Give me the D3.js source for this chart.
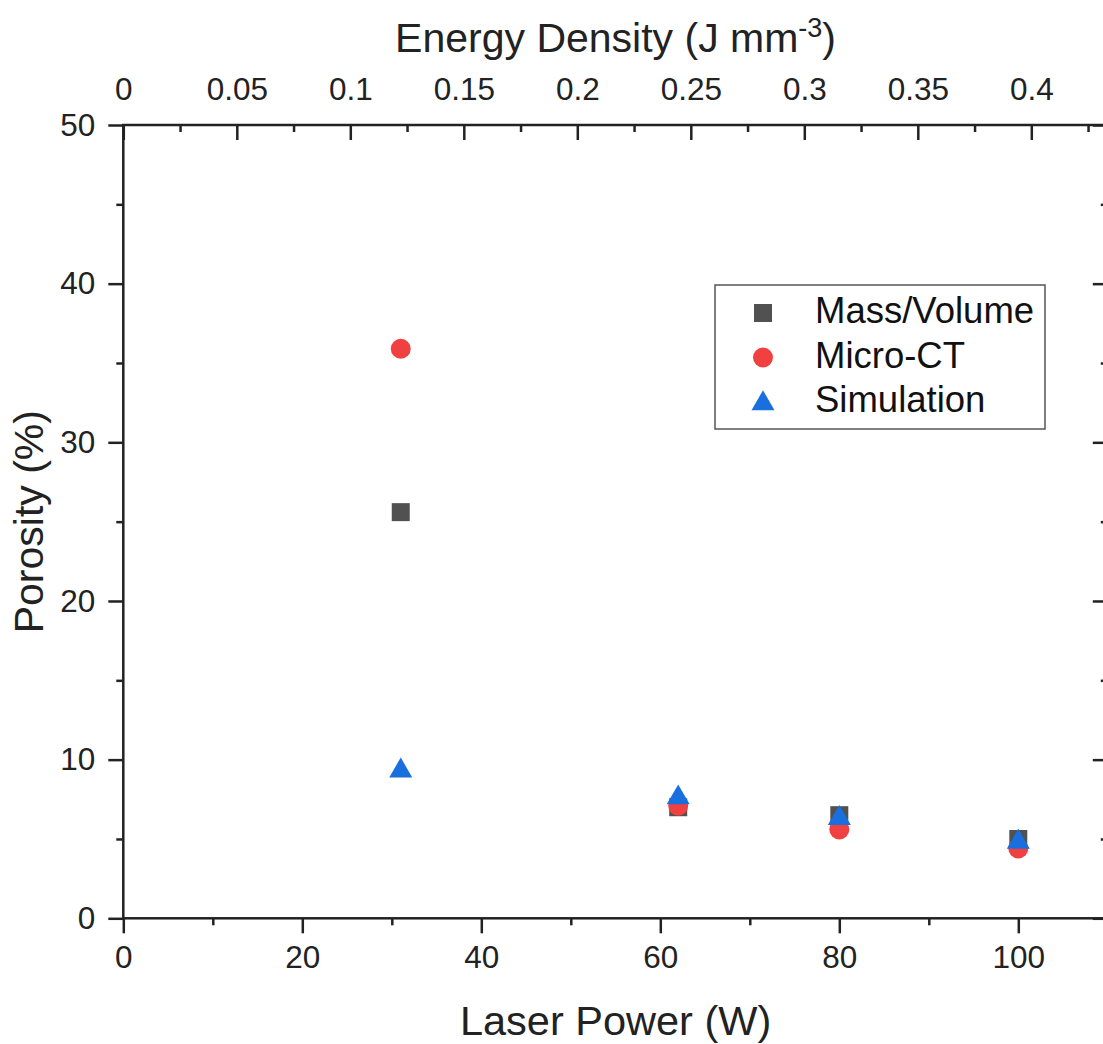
<!DOCTYPE html>
<html>
<head>
<meta charset="utf-8">
<script src="https://cdn.jsdelivr.net/npm/d3@7"></script>
<style>
  html, body { margin: 0; padding: 0; background: #fff; }
  svg { display: block; font-family: "Liberation Sans", Arial, sans-serif; }
</style>
</head>
<body>
<svg id="chart" width="1103" height="1044"></svg>
<script>
// Porosity measurements vs. laser power
const laserPower   = [31, 62, 80, 100];
const massVolume   = [25.6, 7.0, 6.5, 5.0];
const microCT      = [35.9, 7.1, 5.6, 4.4];
const simulation   = [9.3, 7.6, 6.3, 4.8];

const seriesNames  = ["Mass/Volume", "Micro-CT", "Simulation"];
const seriesColors = ["#515151", "#F14040", "#1A6FDF"];

const powerTicks    = [0, 20, 40, 60, 80, 100];
const porosityTicks = [0, 10, 20, 30, 40, 50];
const energyTicks   = [0, 0.05, 0.1, 0.15, 0.2, 0.25, 0.3, 0.35, 0.4];

const svg = d3.select("#chart");
const plotLeft = 123.3, plotRight = 1107.8, plotTop = 125, plotBottom = 918.3;

const x = d3.scaleLinear().domain([0, 110]).range([plotLeft, plotRight]);
const xTop = d3.scaleLinear().domain([0, 0.4337]).range([plotLeft, plotRight]);
const y = d3.scaleLinear().domain([0, 50]).range([plotBottom, plotTop]);

const axisColor = "#222";
const lw = 2.5;
const tickFont = "Liberation Sans, Arial, sans-serif";

function styleAxis(g) {
  g.select(".domain").remove();
  g.selectAll(".tick line").attr("stroke-width", lw).attr("stroke", axisColor);
  g.selectAll(".tick text").attr("font-size", 31.5).attr("fill", "#222").attr("font-family", tickFont);
}

// Bottom axis: outward ticks
svg.append("g").attr("transform", `translate(0,${plotBottom})`)
  .call(d3.axisBottom(x).tickValues(d3.range(10, 111, 20)).tickSize(7).tickFormat(""))
  .call(styleAxis);
svg.append("g").attr("transform", `translate(0,${plotBottom})`)
  .call(d3.axisBottom(x).tickValues(powerTicks).tickSize(15).tickPadding(12).tickFormat(d3.format("d")))
  .call(styleAxis);

// Left axis: outward ticks
svg.append("g").attr("transform", `translate(${plotLeft},0)`)
  .call(d3.axisLeft(y).tickValues(d3.range(5, 50, 10)).tickSize(7).tickFormat(""))
  .call(styleAxis);
svg.append("g").attr("transform", `translate(${plotLeft},0)`)
  .call(d3.axisLeft(y).tickValues(porosityTicks).tickSize(15).tickPadding(13).tickFormat(d3.format("d")))
  .call(styleAxis);

// Top axis: inward ticks, energy density labels
svg.append("g").attr("transform", `translate(0,${plotTop})`)
  .call(d3.axisTop(xTop).tickValues(d3.range(0.025, 0.44, 0.05)).tickSize(-7).tickFormat(""))
  .call(styleAxis);
svg.append("g").attr("transform", `translate(0,${plotTop})`)
  .call(d3.axisTop(xTop).tickValues(energyTicks).tickSize(-15).tickPadding(25)
    .tickFormat(d => d === 0 ? "0" : String(+d.toFixed(2))))
  .call(styleAxis);

// Right axis: inward ticks, no labels
svg.append("g").attr("transform", `translate(${plotRight},0)`)
  .call(d3.axisRight(y).tickValues(d3.range(5, 50, 10)).tickSize(-7).tickFormat(""))
  .call(styleAxis);
svg.append("g").attr("transform", `translate(${plotRight},0)`)
  .call(d3.axisRight(y).tickValues(porosityTicks).tickSize(-15).tickFormat(""))
  .call(styleAxis);

// Frame
svg.append("rect")
  .attr("x", plotLeft).attr("y", plotTop)
  .attr("width", plotRight - plotLeft).attr("height", plotBottom - plotTop)
  .attr("fill", "none").attr("stroke", axisColor).attr("stroke-width", lw);

// Axis titles
svg.append("text").attr("x", (plotLeft + plotRight) / 2).attr("y", 1035)
  .attr("text-anchor", "middle").attr("font-size", 41.5).attr("fill", "#222")
  .text("Laser Power (W)");

const topTitle = svg.append("text").attr("x", (plotLeft + plotRight) / 2).attr("y", 52)
  .attr("text-anchor", "middle").attr("font-size", 41).attr("fill", "#222");
topTitle.append("tspan").text("Energy Density (J mm");
topTitle.append("tspan").attr("font-size", 27).attr("dy", -15).text("-3");
topTitle.append("tspan").attr("dy", 15).text(")");

svg.append("text")
  .attr("transform", `translate(43,${(plotTop + plotBottom) / 2}) rotate(-90)`)
  .attr("text-anchor", "middle").attr("font-size", 41).attr("fill", "#222")
  .text("Porosity (%)");

// Markers
const shapes = [d3.symbolSquare, d3.symbolCircle, d3.symbolTriangle];
const sizes = [324, 314, 229];
const seriesData = [massVolume, microCT, simulation];

seriesData.forEach((vals, i) => {
  svg.append("g").selectAll("path")
    .data(vals.map((v, j) => ({ p: laserPower[j], v })))
    .join("path")
    .attr("transform", d => `translate(${x(d.p)},${y(d.v)})`)
    .attr("d", d3.symbol().type(shapes[i]).size(sizes[i]))
    .attr("fill", seriesColors[i]);
});

// Legend
const legend = svg.append("g");
legend.append("rect").attr("x", 715).attr("y", 285).attr("width", 330).attr("height", 144)
  .attr("fill", "#fff").attr("stroke", "#555").attr("stroke-width", 1.5);
seriesNames.forEach((name, i) => {
  const cy = 313 + i * 44.5;
  legend.append("path")
    .attr("transform", `translate(763,${cy + (i === 2 ? 1.5 : 0)})`)
    .attr("d", d3.symbol().type(shapes[i]).size(sizes[i]))
    .attr("fill", seriesColors[i]);
  legend.append("text").attr("x", 815).attr("y", cy + 10)
    .attr("font-size", 36.5).attr("fill", "#111").text(name);
});
</script>
</body>
</html>
